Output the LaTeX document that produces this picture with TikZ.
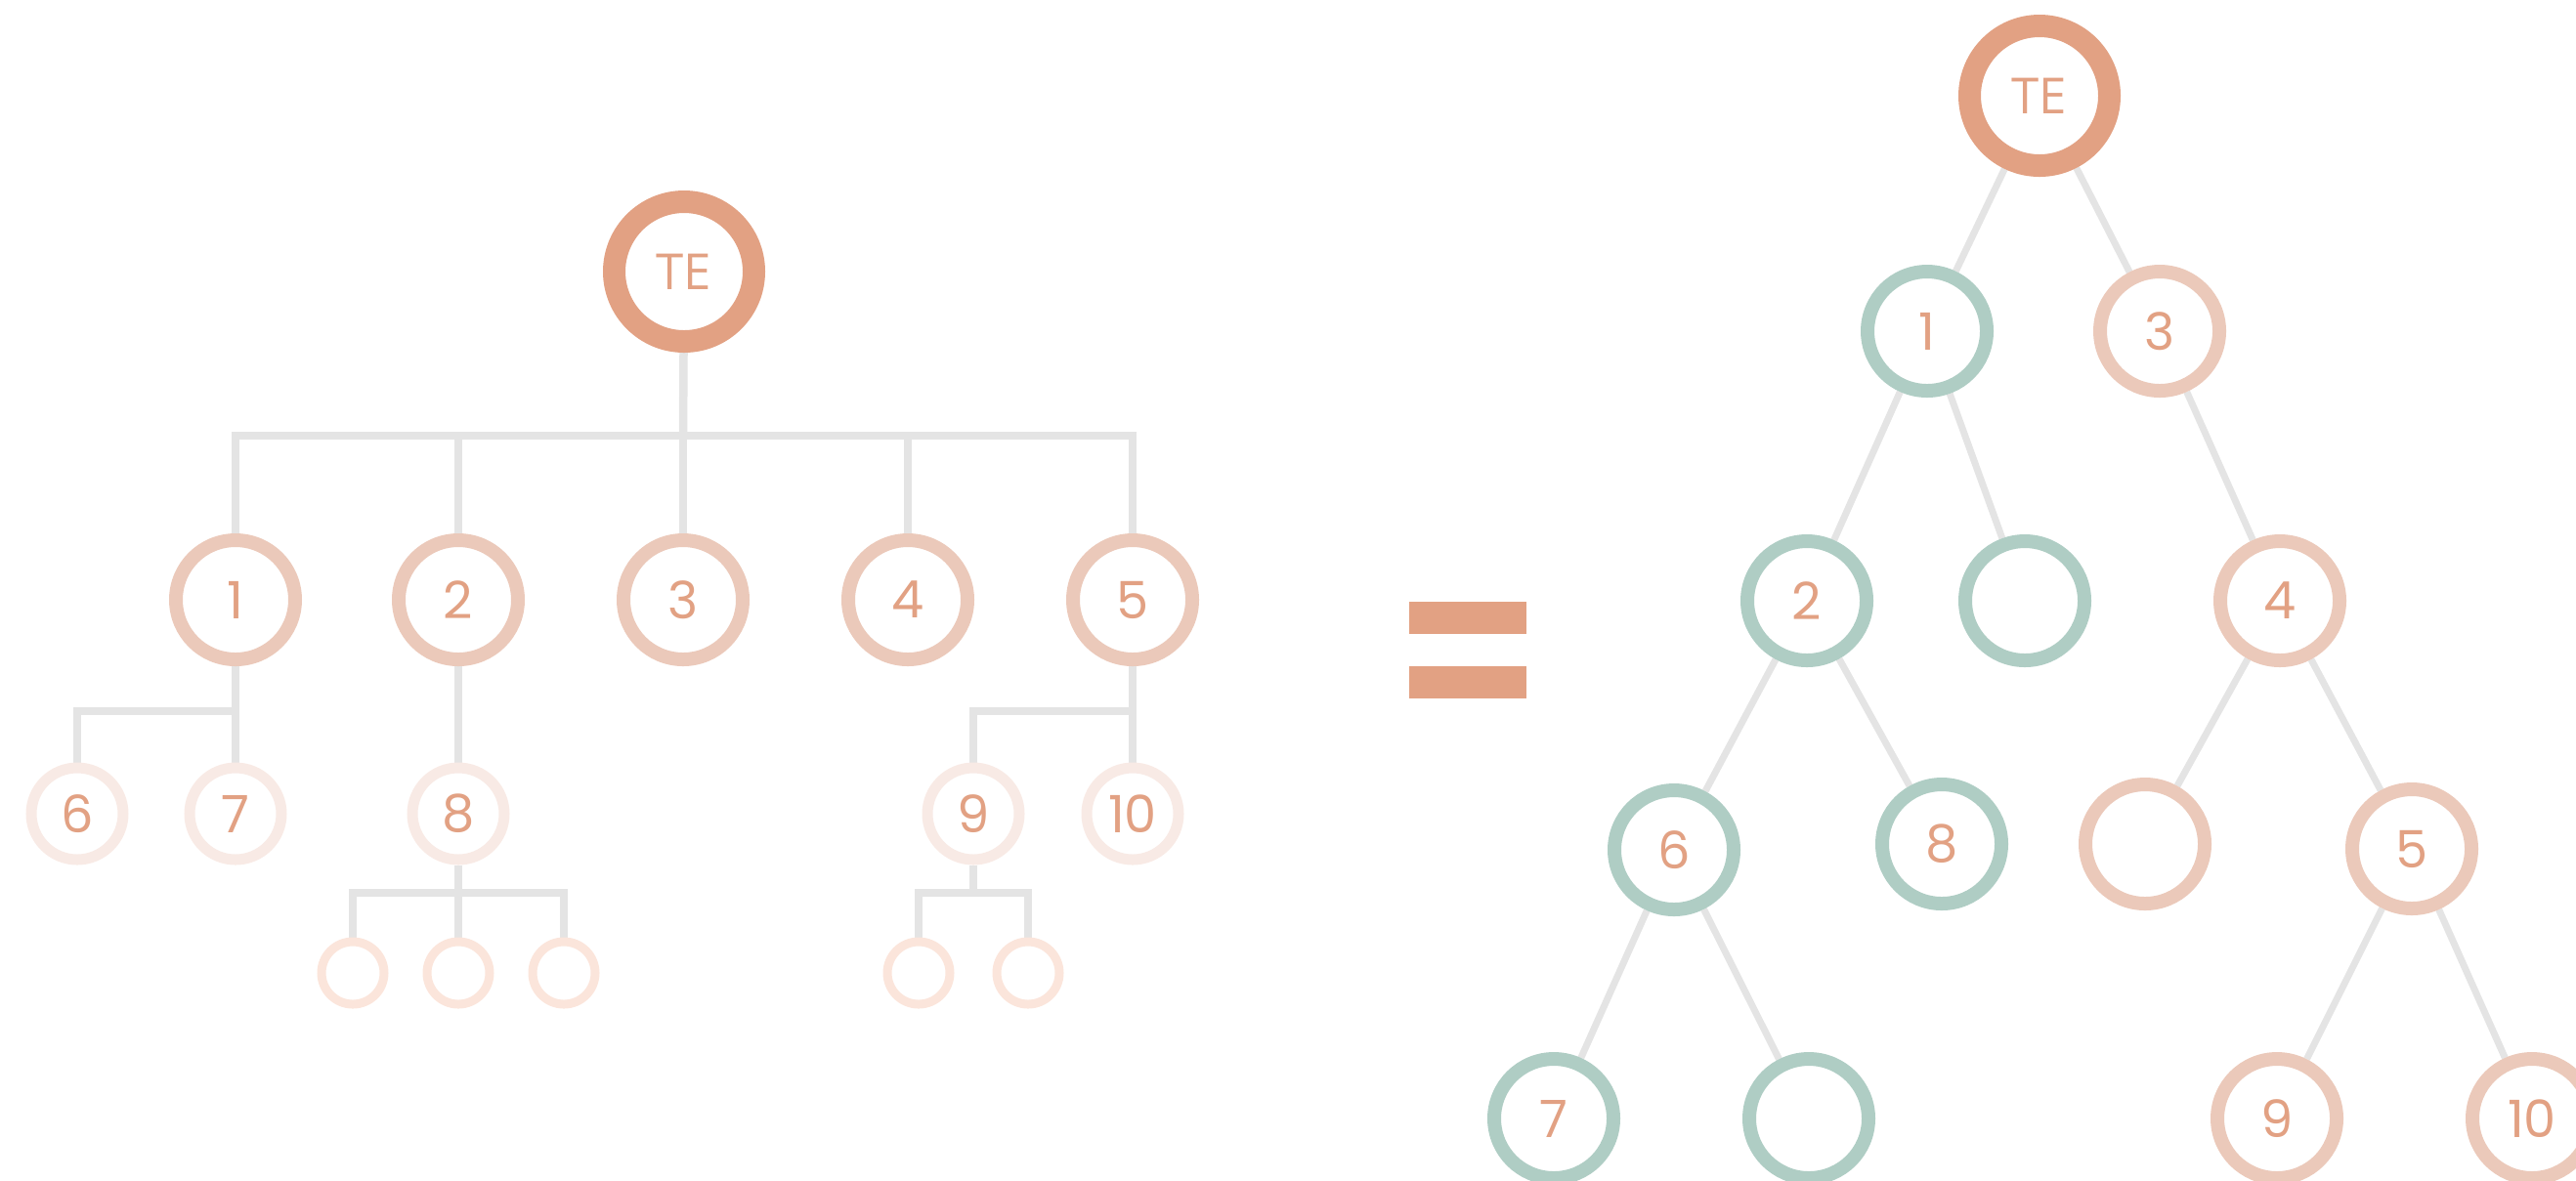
\documentclass[tikz,border=0pt]{standalone}
\usepackage{fontspec}
\setmainfont{Poppins}
\newfontfamily\tefont{Open Sans}
\usetikzlibrary{backgrounds}
\definecolor{teorange}{HTML}{E2A183}
\definecolor{ringpink}{HTML}{EBC9BA}
\definecolor{ringpale}{HTML}{F8EAE5}
\definecolor{ringpeach}{HTML}{FBE5DB}
\definecolor{ringgreen}{HTML}{AFCDC4}
\definecolor{edgegrey}{HTML}{E4E4E4}

\tikzset{
	ball/.style={circle, fill=white, inner sep=0pt, text=teorange, font=\fontsize{15}{18}\selectfont},
	rootball/.style={ball, draw=teorange, line width=0.23cm, minimum size=1.43cm, font=\tefont\fontsize{14.5}{17}\selectfont},
	bigball/.style={ball, draw=#1, line width=0.14cm, minimum size=1.22cm},
	bigball/.default=ringpink,
	midball/.style={ball, draw=ringpale, line width=0.11cm, minimum size=0.94cm},
	smallball/.style={ball, draw=ringpeach, line width=0.09cm, minimum size=0.64cm},
	bus/.style={draw=edgegrey, line width=0.085cm},
	link/.style={draw=edgegrey, line width=0.07cm},
}

\begin{document}
\begin{tikzpicture}
	\useasboundingbox (0,0) rectangle (26.36,-12.08);

	% left: the general tree
	\node[rootball] (lte) at (7.00,-2.78)  {TE};
	\node[bigball]  (l1)  at (2.41,-6.14)  {1};
	\node[bigball]  (l2)  at (4.69,-6.14)  {2};
	\node[bigball]  (l3)  at (6.99,-6.14)  {3};
	\node[bigball]  (l4)  at (9.29,-6.14)  {4};
	\node[bigball]  (l5)  at (11.59,-6.14) {5};
	\node[midball]  (l6)  at (0.79,-8.33)  {6};
	\node[midball]  (l7)  at (2.41,-8.33)  {7};
	\node[midball]  (l8)  at (4.69,-8.33)  {8};
	\node[midball]  (l9)  at (9.96,-8.33)  {9};
	\node[midball]  (l10) at (11.59,-8.33) {10};
	\node[smallball] (l8a) at (3.61,-9.96)  {};
	\node[smallball] (l8b) at (4.69,-9.96)  {};
	\node[smallball] (l8c) at (5.77,-9.96)  {};
	\node[smallball] (l9a) at (9.40,-9.96)  {};
	\node[smallball] (l9b) at (10.52,-9.96) {};

	\coordinate (bus0) at (6.99,-4.46);
	\coordinate (bus1) at (2.41,-7.28);
	\coordinate (bus5) at (11.59,-7.28);
	\coordinate (bus8) at (4.69,-9.14);
	\coordinate (bus9) at (9.96,-9.14);

	% the equals sign
	\fill[teorange] (14.42,-6.16) rectangle (15.62,-6.49);
	\fill[teorange] (14.42,-6.82) rectangle (15.62,-7.15);

	% right: the binary tree
	\node[rootball] (rte) at (20.87,-0.98) {TE};
	\node[bigball=ringgreen] (r1)  at (19.72,-3.39)  {1};
	\node[bigball]           (r3)  at (22.10,-3.39)  {3};
	\node[bigball=ringgreen] (r2)  at (18.49,-6.15)  {2};
	\node[bigball=ringgreen] (rx1) at (20.72,-6.15)  {};
	\node[bigball]           (r4)  at (23.33,-6.15)  {4};
	\node[bigball=ringgreen] (r6)  at (17.13,-8.70)  {6};
	\node[bigball=ringgreen] (r8)  at (19.87,-8.64)  {8};
	\node[bigball]           (rx2) at (21.95,-8.64)  {};
	\node[bigball]           (r5)  at (24.68,-8.69)  {5};
	\node[bigball=ringgreen] (r7)  at (15.90,-11.45) {7};
	\node[bigball=ringgreen] (rx3) at (18.51,-11.45) {};
	\node[bigball]           (r9)  at (23.30,-11.45) {9};
	\node[bigball]           (r10) at (25.91,-11.45) {10};

	\begin{scope}[on background layer]
		\draw[bus] (lte) to (bus0);
		\draw[bus] (l1) |- (bus0);
		\draw[bus] (l2) |- (bus0);
		\draw[bus] (l3) to (bus0);
		\draw[bus] (l4) |- (bus0);
		\draw[bus] (l5) |- (bus0);
		\draw[bus] (l1) to (l7);
		\draw[bus] (l6) |- (bus1);
		\draw[bus] (l2) to (l8);
		\draw[bus] (l8) to (l8b);
		\draw[bus] (l8a) |- (bus8);
		\draw[bus] (l8c) |- (bus8);
		\draw[bus] (l5) to (l10);
		\draw[bus] (l9) |- (bus5);
		\draw[bus] (l9) to (bus9);
		\draw[bus] (l9a) |- (bus9);
		\draw[bus] (l9b) |- (bus9);

		\draw[link] (rte) to (r1);
		\draw[link] (rte) to (r3);
		\draw[link] (r1)  to (r2);
		\draw[link] (r1)  to (rx1);
		\draw[link] (r3)  to (r4);
		\draw[link] (r2)  to (r6);
		\draw[link] (r2)  to (r8);
		\draw[link] (r4)  to (rx2);
		\draw[link] (r4)  to (r5);
		\draw[link] (r6)  to (r7);
		\draw[link] (r6)  to (rx3);
		\draw[link] (r5)  to (r9);
		\draw[link] (r5)  to (r10);
	\end{scope}
\end{tikzpicture}
\end{document}
